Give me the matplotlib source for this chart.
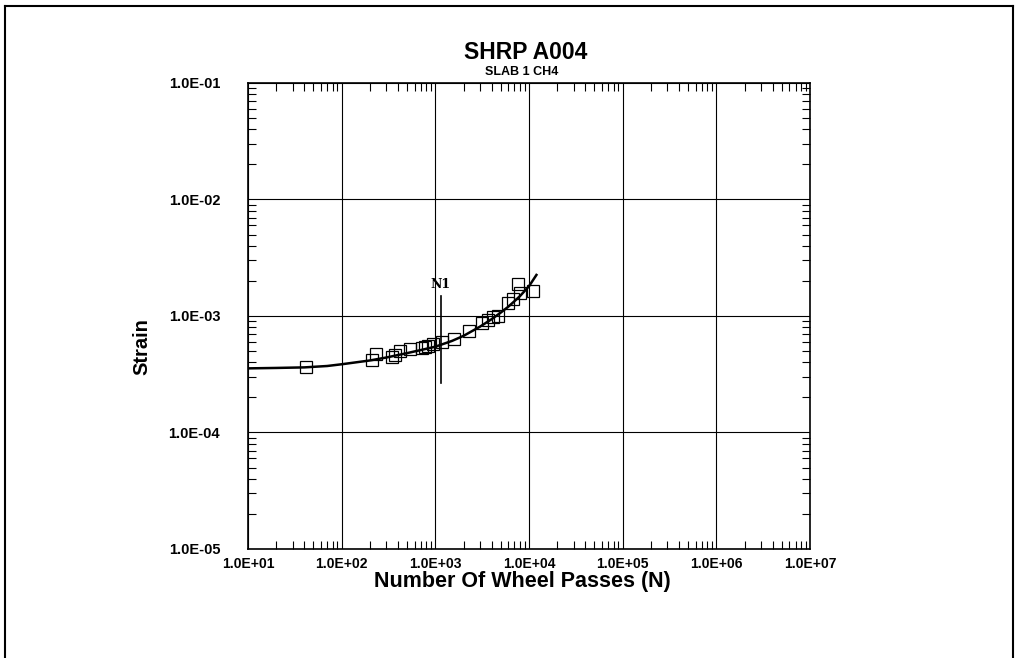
import matplotlib
matplotlib.use("Agg")
import matplotlib.pyplot as plt
from matplotlib.lines import Line2D
from matplotlib.ticker import LogLocator, FixedLocator, NullFormatter

# ---- data ----
passes = [42, 209, 231, 341, 371, 419, 535, 713, 774, 840, 950, 1167, 1592,
          2285, 3120, 3670, 4150, 4700, 6010, 6690, 7680, 8000, 10940]
strain = [3.63e-4, 4.19e-4, 4.69e-4, 4.48e-4, 4.62e-4, 5.04e-4, 5.24e-4, 5.35e-4,
          5.45e-4, 5.52e-4, 5.70e-4, 6.01e-4, 6.30e-4, 7.48e-4, 8.77e-4, 9.25e-4,
          9.75e-4, 1.00e-3, 1.29e-3, 1.39e-3, 1.88e-3, 1.57e-3, 1.65e-3]

fit_passes = [10, 20, 40, 70, 100, 200, 300, 500, 700, 1000, 1500, 2000, 3000,
              4000, 5000, 6000, 7000, 8000, 10000, 12000]
fit_strain = [3.55e-4, 3.58e-4, 3.62e-4, 3.72e-4, 3.85e-4, 4.15e-4, 4.40e-4, 4.80e-4,
              5.10e-4, 5.45e-4, 6.10e-4, 6.75e-4, 8.10e-4, 9.40e-4, 1.07e-3,
              1.20e-3, 1.34e-3, 1.48e-3, 1.80e-3, 2.25e-3]

n1_pass = 1140
n1_span = [2.67e-4, 1.47e-3]

x_ticks = [1e1, 1e2, 1e3, 1e4, 1e5, 1e6, 1e7]
x_labels = ["1.0E+01", "1.0E+02", "1.0E+03", "1.0E+04", "1.0E+05", "1.0E+06", "1.0E+07"]
y_ticks = [1e-5, 1e-4, 1e-3, 1e-2, 1e-1]
y_labels = ["1.0E-05", "1.0E-04", "1.0E-03", "1.0E-02", "1.0E-01"]

title = "SHRP A004"
subtitle = "SLAB 1 CH4"
xlabel = "Number Of Wheel Passes (N)"
ylabel = "Strain"

# ---- figure ----
plt.rcParams['font.family'] = ['Liberation Sans', 'DejaVu Sans']
fig = plt.figure(figsize=(10.18, 6.58), dpi=100)
fig.patch.set_facecolor('white')

# outer frame (left, top, right)
for xs, ys in [([0.005, 0.005], [0.0, 0.991]), ([0.005, 0.995], [0.991, 0.991]),
               ([0.995, 0.995], [0.991, 0.0])]:
    fig.add_artist(Line2D(xs, ys, transform=fig.transFigure, color='black', lw=1.5))

ax = fig.add_axes([0.2436, 0.1657, 0.5521, 0.7082])
ax.set_xscale('log')
ax.set_yscale('log')
ax.set_xlim(1e1, 1e7)
ax.set_ylim(1e-5, 1e-1)

ax.xaxis.set_major_locator(FixedLocator(x_ticks))
ax.yaxis.set_major_locator(FixedLocator(y_ticks))
ax.set_xticklabels(x_labels)
ax.set_yticklabels(y_labels)
ax.xaxis.set_minor_locator(LogLocator(base=10, subs=range(2, 10), numticks=20))
ax.yaxis.set_minor_locator(LogLocator(base=10, subs=range(2, 10), numticks=20))
ax.xaxis.set_minor_formatter(NullFormatter())
ax.yaxis.set_minor_formatter(NullFormatter())

ax.tick_params(which='both', direction='in', top=True, right=True, color='black')
ax.tick_params(axis='x', which='major', length=0, labelsize=10, pad=6)
ax.tick_params(axis='y', which='major', length=0, labelsize=10.5, pad=20)
ax.tick_params(which='minor', length=6, width=0.8)
for lab in ax.get_xticklabels() + ax.get_yticklabels():
    lab.set_fontweight('bold')

ax.grid(True, which='major', color='black', lw=0.8)
for sp in ax.spines.values():
    sp.set_linewidth(1.2)

ax.plot(fit_passes, fit_strain, color='black', lw=1.8, zorder=3)
ax.plot(passes, strain, linestyle='none', marker='s', markersize=8,
        markerfacecolor='none', markeredgecolor='black', markeredgewidth=0.9, zorder=4)

ax.plot([n1_pass, n1_pass], n1_span, color='black', lw=1.2, zorder=3)
ax.text(n1_pass, n1_span[1] * 1.12, "N1", family='DejaVu Serif', fontsize=9,
        fontweight='bold', ha='center', va='bottom')

fig.text(0.516, 0.920, title, ha='center', va='center', fontsize=16.5, fontweight='bold')
fig.text(0.512, 0.891, subtitle, ha='center', va='center', fontsize=9, fontweight='bold')

fig.text(0.513, 0.117, xlabel, ha='center', va='center', fontsize=15.5, fontweight='bold')
fig.text(0.139, 0.473, ylabel, ha='center', va='center', rotation=90,
         fontsize=14.5, fontweight='bold')

fig.savefig("out.png", dpi=100, facecolor='white')
